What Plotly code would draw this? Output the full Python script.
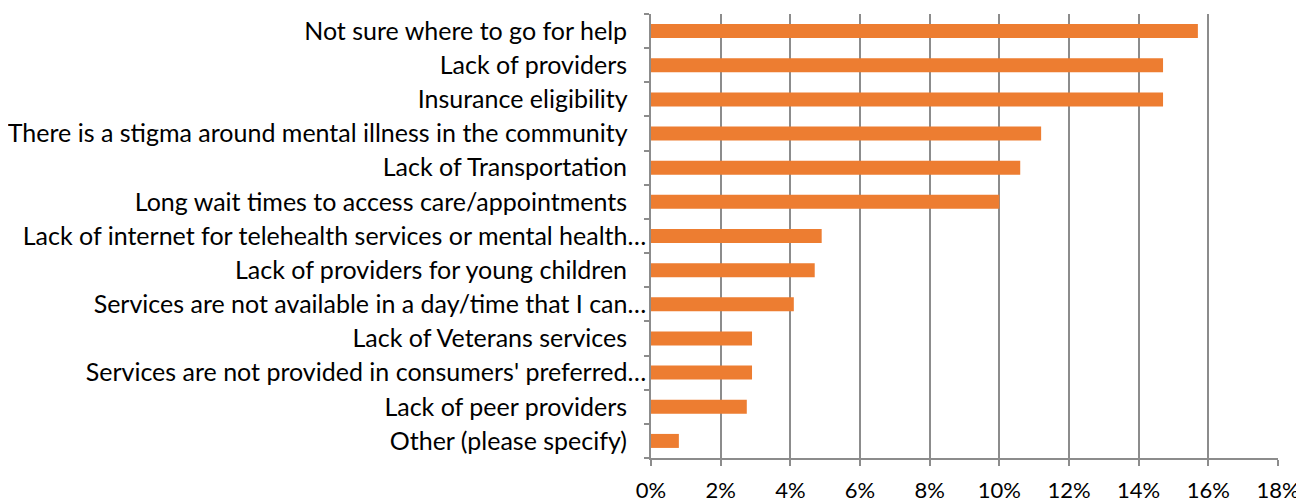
import plotly.graph_objects as go

# barriers to care, listed top to bottom as in the chart
categories = [
    "Not sure where to go for help",
    "Lack of providers",
    "Insurance eligibility",
    "There is a stigma around mental illness in the community",
    "Lack of Transportation",
    "Long wait times to access care/appointments",
    "Lack of internet for telehealth services or mental health…",
    "Lack of providers for young children",
    "Services are not available in a day/time that I can…",
    "Lack of Veterans services",
    "Services are not provided in consumers' preferred…",
    "Lack of peer providers",
    "Other (please specify)",
]
shares = [0.157, 0.147, 0.147, 0.112, 0.106, 0.100, 0.049, 0.047, 0.041, 0.029, 0.029, 0.0275, 0.008]
x_ticks = [0, 0.02, 0.04, 0.06, 0.08, 0.10, 0.12, 0.14, 0.16, 0.18]

# truncated labels sit closer to the axis, like in the original
tick_text = [c if c.endswith("…") else c + "\u00a0\u00a0\u00a0" for c in categories]

BAR_COLOR = "#ED7D31"
GRID = "#8C8C8C"
FONT = "Lato, 'Open Sans', sans-serif"

# page body has an 8px margin, so the figure is drawn 8px smaller
fig = go.Figure()
fig.add_trace(go.Bar(
    y=categories,
    x=shares,
    orientation="h",
    width=0.41,
    marker=dict(color=BAR_COLOR, line=dict(width=0)),
    hovertemplate="%{y}: %{x:.1%}<extra></extra>",
))

fig.update_layout(
    width=1296, height=495,
    margin=dict(l=643, r=26, t=6, b=45, autoexpand=False),
    paper_bgcolor="white", plot_bgcolor="white",
    font=dict(family=FONT, size=25, color="#000000"),
    showlegend=False,
)

fig.update_xaxes(
    range=[0, 0.18],
    tickvals=x_ticks,
    tickformat=".0%",
    showgrid=True, gridcolor=GRID, gridwidth=1.5,
    showline=True, linecolor=GRID, linewidth=1.5,
    ticks="outside", ticklen=6, tickcolor=GRID, tickwidth=1.5,
    zeroline=False, automargin=False,
    ticklabelstandoff=6,
    tickfont=dict(size=22, color="#000000"),
)
fig.update_yaxes(
    type="category",
    autorange="reversed",
    tickvals=categories,
    ticktext=tick_text,
    showline=True, linecolor=GRID, linewidth=1.5,
    ticks="outside", ticklen=5, tickcolor=GRID, tickwidth=1.5,
    tickson="boundaries",
    showgrid=False, automargin=False,
    ticklabelstandoff=-2,
    tickfont=dict(size=25, color="#000000"),
)

fig.write_html("out.html")
